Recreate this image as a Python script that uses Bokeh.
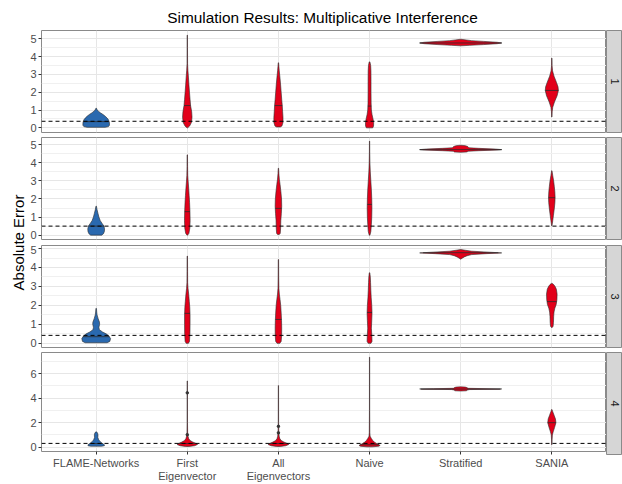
import numpy as np
from bokeh.plotting import figure
from bokeh.layouts import column, row
from bokeh.models import Range1d, FixedTicker, Span, ColumnDataSource
from bokeh.embed import file_html
from bokeh.resources import INLINE
from bokeh.core.properties import value

# ---------------- data ----------------
TITLE = "Simulation Results: Multiplicative Interference"
Y_LABEL = "Absolute Error"
methods = ["FLAME-Networks", "First Eigenvector", "All Eigenvectors", "Naive", "Stratified", "SANIA"]
tick_labels = ["FLAME-Networks", "First\nEigenvector", "All\nEigenvectors", "Naive", "Stratified", "SANIA"]
facets = ["1", "2", "3", "4"]
colors = ["#2A69AF", "#E2001A", "#E2001A", "#E2001A", "#E2001A", "#E2001A"]

# reference (dashed) line per facet
ref_lines = [0.37, 0.50, 0.42, 0.31]

# y-axis ranges and ticks per facet
y_ranges = [(-0.26, 5.46), (-0.24, 5.40), (-0.22, 5.16), (-0.35, 7.72)]
y_major = [[0, 1, 2, 3, 4, 5], [0, 1, 2, 3, 4, 5], [0, 1, 2, 3, 4, 5], [0, 2, 4, 6]]
y_minor = [[0.5, 1.5, 2.5, 3.5, 4.5], [0.5, 1.5, 2.5, 3.5, 4.5], [0.5, 1.5, 2.5, 3.5, 4.5], [1, 3, 5, 7]]

# violin profiles: (error value, half width in category units)
# facet 1
flame_1 = [(0.03, 0.10), (0.07, 0.135), (0.15, 0.146), (0.3, 0.145), (0.45, 0.135), (0.55, 0.12), (0.65, 0.10),
           (0.75, 0.075), (0.85, 0.045), (0.93, 0.025), (1.0, 0.012), (1.1, 0.003)]
first_1 = [(0.0, 0.003), (0.1, 0.025), (0.3, 0.045), (0.6, 0.052), (0.9, 0.048), (1.25, 0.036), (1.6, 0.03),
           (2.0, 0.024), (2.4, 0.018), (2.8, 0.013), (3.2, 0.007), (3.6, 0.003), (4.5, 0.002), (5.2, 0.0015)]
all_1 = [(0.05, 0.02), (0.1, 0.038), (0.3, 0.05), (0.6, 0.05), (0.9, 0.046), (1.25, 0.042), (1.6, 0.036),
         (2.0, 0.03), (2.4, 0.024), (2.8, 0.017), (3.2, 0.009), (3.45, 0.005), (3.65, 0.002)]
naive_1 = [(0.0, 0.035), (0.1, 0.044), (0.3, 0.045), (0.5, 0.038), (0.75, 0.027), (1.0, 0.02), (1.4, 0.017),
           (2.0, 0.016), (2.6, 0.016), (3.2, 0.015), (3.5, 0.012), (3.7, 0.004)]
strat_1 = [(4.60, 0.0), (4.63, 0.1), (4.67, 0.25), (4.72, 0.4), (4.76, 0.45), (4.80, 0.4), (4.85, 0.25),
           (4.89, 0.12), (4.93, 0.06), (4.97, 0.0)]
sania_1 = [(0.61, 0.002), (0.9, 0.004), (1.15, 0.01), (1.45, 0.029), (1.8, 0.058), (2.1, 0.072), (2.3, 0.068),
           (2.55, 0.051), (2.9, 0.024), (3.2, 0.008), (3.5, 0.003), (3.91, 0.002)]
# facet 2
flame_2 = [(0.0, 0.06), (0.08, 0.08), (0.2, 0.09), (0.35, 0.092), (0.5, 0.085), (0.65, 0.065), (0.8, 0.045),
           (1.0, 0.03), (1.2, 0.02), (1.4, 0.01), (1.6, 0.003)]
first_2 = [(0.0, 0.003), (0.1, 0.018), (0.4, 0.028), (0.8, 0.031), (1.3, 0.029), (1.8, 0.025), (2.2, 0.02),
           (2.6, 0.015), (3.0, 0.009), (3.3, 0.005), (3.8, 0.003), (4.44, 0.002)]
all_2 = [(0.04, 0.01), (0.1, 0.02), (0.4, 0.024), (0.8, 0.026), (1.2, 0.032), (1.6, 0.036), (2.0, 0.034),
         (2.4, 0.027), (2.8, 0.018), (3.1, 0.01), (3.4, 0.005), (3.7, 0.002)]
naive_2 = [(0.0, 0.004), (0.2, 0.014), (0.6, 0.02), (1.0, 0.024), (1.5, 0.026), (2.0, 0.024), (2.5, 0.02),
           (3.0, 0.014), (3.5, 0.008), (4.0, 0.004), (4.6, 0.002), (5.2, 0.0015)]
strat_2 = [(4.58, 0.0), (4.6, 0.07), (4.64, 0.08), (4.67, 0.2), (4.71, 0.42), (4.73, 0.45), (4.76, 0.38),
           (4.8, 0.2), (4.83, 0.09), (4.9, 0.078), (4.95, 0.05), (4.97, 0.0)]
sania_2 = [(0.52, 0.002), (0.8, 0.01), (1.1, 0.018), (1.5, 0.028), (1.8, 0.034), (2.1, 0.036), (2.4, 0.033),
           (2.7, 0.027), (3.0, 0.02), (3.3, 0.01), (3.56, 0.002)]
# facet 3
flame_3 = [(0.03, 0.12), (0.1, 0.15), (0.25, 0.158), (0.38, 0.14), (0.5, 0.11), (0.6, 0.07), (0.72, 0.035),
           (0.85, 0.03), (1.0, 0.038), (1.12, 0.036), (1.3, 0.022), (1.5, 0.01), (1.65, 0.006), (1.84, 0.003)]
first_3 = [(0.0, 0.012), (0.1, 0.024), (0.5, 0.029), (1.0, 0.03), (1.5, 0.03), (1.9, 0.027), (2.2, 0.022),
           (2.6, 0.015), (2.9, 0.008), (3.2, 0.004), (3.8, 0.003), (4.6, 0.002)]
all_3 = [(0.0, 0.015), (0.1, 0.03), (0.4, 0.035), (0.8, 0.036), (1.2, 0.034), (1.6, 0.03), (2.0, 0.025),
         (2.3, 0.018), (2.6, 0.01), (2.9, 0.005), (3.5, 0.003), (4.42, 0.002)]
naive_3 = [(0.0, 0.015), (0.1, 0.027), (0.4, 0.025), (0.8, 0.02), (1.2, 0.024), (1.6, 0.027), (2.0, 0.024),
           (2.4, 0.018), (2.8, 0.014), (3.2, 0.011), (3.5, 0.008), (3.72, 0.003)]
strat_3 = [(4.44, 0.0), (4.5, 0.02), (4.56, 0.04), (4.62, 0.07), (4.68, 0.12), (4.73, 0.28), (4.77, 0.45),
           (4.81, 0.3), (4.86, 0.12), (4.91, 0.05), (4.95, 0.0)]
sania_3 = [(0.84, 0.005), (0.9, 0.014), (1.1, 0.018), (1.4, 0.02), (1.65, 0.024), (1.85, 0.033), (2.05, 0.048),
           (2.3, 0.056), (2.6, 0.058), (2.85, 0.05), (3.0, 0.036), (3.1, 0.02), (3.16, 0.005)]
# facet 4
flame_4 = [(0.08, 0.06), (0.12, 0.09), (0.2, 0.09), (0.3, 0.07), (0.45, 0.045), (0.6, 0.028), (0.8, 0.018),
           (1.0, 0.02), (1.15, 0.015), (1.25, 0.004)]
first_4 = [(0.06, 0.02), (0.12, 0.08), (0.22, 0.112), (0.3, 0.1), (0.42, 0.06), (0.55, 0.03), (0.7, 0.015),
           (0.9, 0.008), (1.1, 0.004), (2.0, 0.002), (5.4, 0.0015)]
all_4 = [(0.06, 0.02), (0.12, 0.08), (0.22, 0.113), (0.3, 0.1), (0.42, 0.06), (0.55, 0.03), (0.7, 0.015),
         (0.9, 0.008), (1.2, 0.004), (2.0, 0.002), (5.03, 0.0015)]
naive_4 = [(0.03, 0.03), (0.08, 0.1), (0.15, 0.116), (0.25, 0.09), (0.4, 0.055), (0.55, 0.035), (0.7, 0.02),
           (0.9, 0.006), (1.2, 0.003), (3.0, 0.0015), (7.34, 0.0015)]
strat_4 = [(4.58, 0.0), (4.6, 0.065), (4.66, 0.069), (4.70, 0.1), (4.73, 0.42), (4.75, 0.45), (4.77, 0.3),
           (4.8, 0.08), (4.86, 0.069), (4.9, 0.05), (4.92, 0.0)]
sania_4 = [(0.21, 0.002), (0.6, 0.003), (1.0, 0.006), (1.25, 0.015), (1.6, 0.03), (2.0, 0.045), (2.3, 0.04),
           (2.6, 0.025), (2.9, 0.01), (3.07, 0.002)]

profiles = [
    [flame_1, first_1, all_1, naive_1, strat_1, sania_1],
    [flame_2, first_2, all_2, naive_2, strat_2, sania_2],
    [flame_3, first_3, all_3, naive_3, strat_3, sania_3],
    [flame_4, first_4, all_4, naive_4, strat_4, sania_4],
]

# medians per facet (one per method)
medians_1 = [0.35, 1.25, 1.25, 1.22, 4.76, 2.10]
medians_2 = [0.50, 1.30, 1.48, 1.70, 4.73, 2.07]
medians_3 = [0.35, 1.58, 1.26, 1.63, 4.78, 2.20]
medians_4 = [0.30, 0.30, 0.30, 0.20, 4.74, 2.00]
medians = [medians_1, medians_2, medians_3, medians_4]

# isolated points in facet 4 (method index, value)
pts4_method = [2, 2, 3, 3]
pts4_value = [4.43, 1.02, 1.70, 1.17]

# ---------------- drawing ----------------
FONT = "Liberation Sans"
W_TOTAL = 622
YLAB_W = 27
STRIP_W = 16
PANEL_W = W_TOTAL - YLAB_W - STRIP_W
LEFT_BORDER = 11
FRAME_H = 102
bottoms = [5, 6, 5, 30]
TITLE_H = 30
x_pos = [1, 2, 3, 4, 5, 6]


def violin_polygon(c, prof):
    ys = [p[0] for p in prof]
    ws = [p[1] for p in prof]
    xs = [c + w for w in ws] + [c - w for w in ws[::-1]]
    yy = ys + ys[::-1]
    return xs, yy


panels = []
strips = []
for i in range(4):
    show_x = (i == 3)
    h = FRAME_H + bottoms[i]
    p = figure(width=PANEL_W, height=h, x_range=Range1d(0.4, 6.6), y_range=Range1d(*y_ranges[i]),
               output_backend="svg", toolbar_location=None,
               min_border_left=LEFT_BORDER, min_border_right=0, min_border_top=0, min_border_bottom=bottoms[i],
               x_axis_location=("below" if show_x else None))
    p.background_fill_color = "white"
    p.border_fill_color = "white"
    p.outline_line_color = "#8a8a8a"
    p.outline_line_width = 1

    yt = FixedTicker(ticks=y_major[i], minor_ticks=y_minor[i])
    p.yaxis.ticker = yt
    p.ygrid.ticker = yt
    p.ygrid.grid_line_color = "#e6e6e6"
    p.ygrid.minor_grid_line_color = "#f0f0f0"
    p.xgrid.ticker = FixedTicker(ticks=x_pos)
    p.xgrid.grid_line_color = "#e6e6e6"

    p.yaxis.axis_line_color = None
    p.yaxis.major_tick_line_color = "#333333"
    p.yaxis.major_tick_out = 3
    p.yaxis.major_tick_in = 0
    p.yaxis.minor_tick_line_color = None
    p.yaxis.major_label_standoff = 1
    p.yaxis.major_label_text_font = FONT
    p.yaxis.major_label_text_font_size = "11px"
    p.yaxis.major_label_text_color = "#4d4d4d"

    if show_x:
        p.xaxis.ticker = FixedTicker(ticks=x_pos)
        p.xaxis.major_label_overrides = {x: lab for x, lab in zip(x_pos, tick_labels)}
        p.xaxis.axis_line_color = None
        p.xaxis.major_tick_line_color = "#333333"
        p.xaxis.major_tick_out = 3
        p.xaxis.major_tick_in = 0
        p.xaxis.minor_tick_line_color = None
        p.xaxis.major_label_standoff = 2
        p.xaxis.major_label_text_font = FONT
        p.xaxis.major_label_text_font_size = "11px"
        p.xaxis.major_label_text_color = "#4d4d4d"
        p.xaxis.major_label_text_line_height = 1.1

    xs_list, ys_list = [], []
    for j in range(6):
        xs, ys = violin_polygon(x_pos[j], profiles[i][j])
        xs_list.append(xs)
        ys_list.append(ys)
    src = ColumnDataSource(dict(xs=xs_list, ys=ys_list, color=colors))
    p.patches("xs", "ys", source=src, fill_color="color", line_color="#2b2b2b", line_width=0.6)

    # median lines
    x0, x1 = [], []
    for j in range(6):
        prof = profiles[i][j]
        w = float(np.interp(medians[i][j], [q[0] for q in prof], [q[1] for q in prof]))
        x0.append(x_pos[j] - w)
        x1.append(x_pos[j] + w)
    p.segment(x0=x0, x1=x1, y0=medians[i], y1=medians[i], line_color="#2b2b2b", line_width=0.8)

    if i == 3:
        p.scatter(x=pts4_method, y=pts4_value, size=2.5, color="#333333")

    p.add_layout(Span(location=ref_lines[i], dimension="width", line_color="black",
                      line_dash="4 3", line_width=1))
    panels.append(p)

    s = figure(width=STRIP_W, height=h, x_range=Range1d(0, 1), y_range=Range1d(0, 1),
               output_backend="svg", toolbar_location=None,
               min_border_left=0, min_border_right=0, min_border_top=0, min_border_bottom=bottoms[i],
               x_axis_location=None, y_axis_location=None)
    s.xgrid.visible = False
    s.ygrid.visible = False
    s.background_fill_color = "#d6d6d6"
    s.border_fill_color = "white"
    s.outline_line_color = "#8a8a8a"
    s.text(x=[0.5], y=[0.5], text=[facets[i]], angle=-np.pi / 2, text_align="center",
           text_baseline="middle", text_font=value(FONT), text_font_size="11px", text_color="#1a1a1a")
    strips.append(s)

col_h = sum(FRAME_H + b for b in bottoms)
frames_span = 3 * FRAME_H + sum(bottoms[:3]) + FRAME_H
yl = figure(width=YLAB_W, height=col_h, x_range=Range1d(0, YLAB_W), y_range=Range1d(0, col_h),
            output_backend="svg", toolbar_location=None, min_border=0,
            x_axis_location=None, y_axis_location=None, outline_line_color=None)
yl.xgrid.visible = False
yl.ygrid.visible = False
yl.text(x=[17.5], y=[col_h - frames_span / 2], text=[Y_LABEL], angle=np.pi / 2, text_align="center",
        text_baseline="middle", text_font=value(FONT), text_font_size="15px", text_color="black")

tf = figure(width=W_TOTAL, height=TITLE_H, x_range=Range1d(0, W_TOTAL), y_range=Range1d(0, TITLE_H),
            output_backend="svg", toolbar_location=None, min_border=0,
            x_axis_location=None, y_axis_location=None, outline_line_color=None)
tf.xgrid.visible = False
tf.ygrid.visible = False
tf.text(x=[YLAB_W + LEFT_BORDER + (PANEL_W - LEFT_BORDER) / 2], y=[13], text=[TITLE], text_align="center",
        text_baseline="middle", text_font=value(FONT), text_font_size="15.4px", text_color="black")

layout = column(tf, row(yl, column(*panels), column(*strips)))
open("out.html", "w").write(file_html(layout, INLINE))
